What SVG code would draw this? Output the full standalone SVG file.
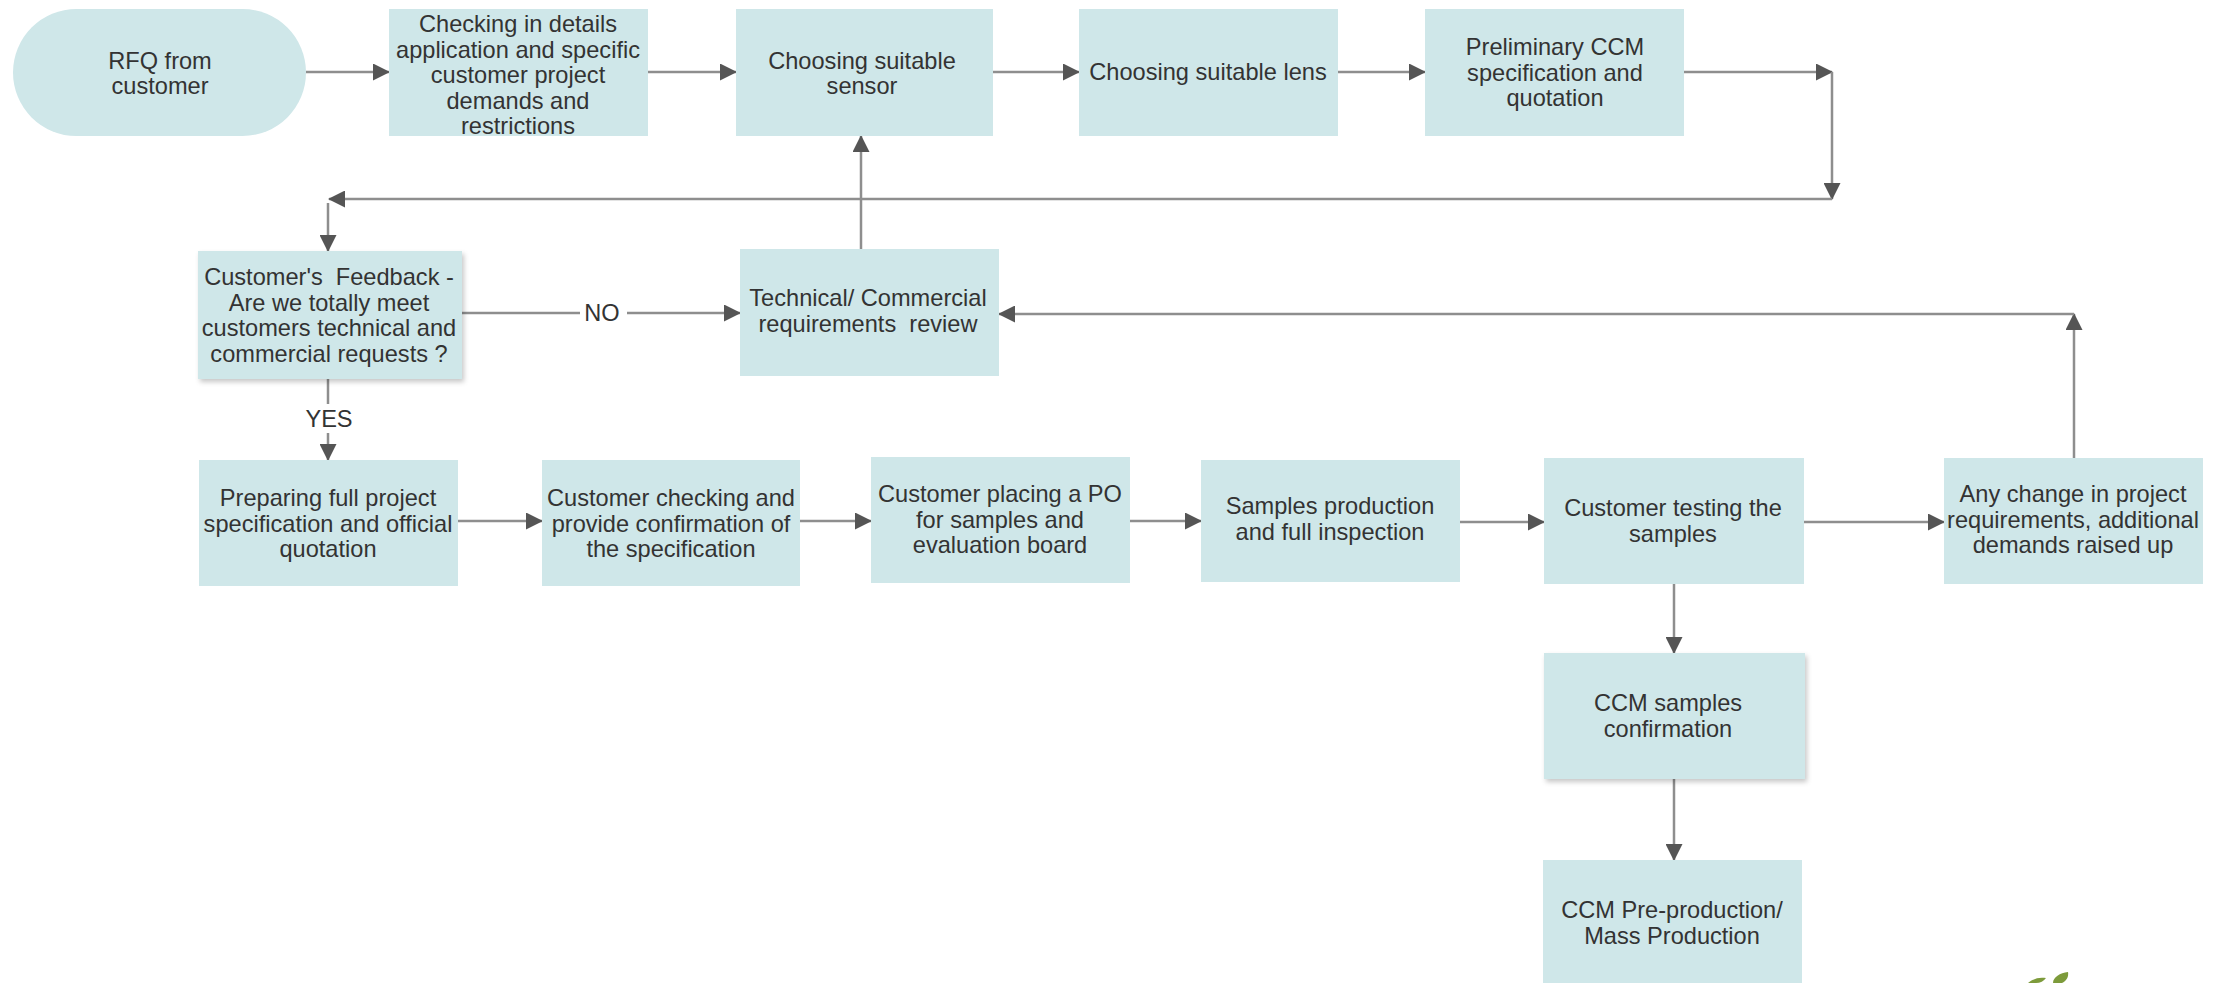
<svg xmlns="http://www.w3.org/2000/svg" width="2218" height="983" viewBox="0 0 2218 983">
<defs>
<style>
.box{fill:#cfe7e9;}
.t{font-family:"Liberation Sans",Arial,sans-serif;font-size:23.6px;fill:#333;text-anchor:middle;white-space:pre;}
.ln{fill:none;stroke:#8e8e8e;stroke-width:2.5;}
.lbl{font-family:"Liberation Sans",Arial,sans-serif;font-size:23.6px;fill:#333;text-anchor:middle;}
</style>
<marker id="ah" markerUnits="userSpaceOnUse" markerWidth="17" markerHeight="17" refX="16" refY="8.5" orient="auto">
<path d="M0,0 L17,8.5 L0,17 z" fill="#555"/>
</marker>
<filter id="sh" x="-10%" y="-10%" width="125%" height="125%">
<feDropShadow dx="2" dy="3" stdDeviation="2.5" flood-color="#000" flood-opacity="0.22"/>
</filter>
</defs>
<rect width="2218" height="983" fill="#fff"/>

<g id="connectors">
<path class="ln" d="M306,72 H389" marker-end="url(#ah)"/>
<path class="ln" d="M648,72 H736" marker-end="url(#ah)"/>
<path class="ln" d="M993,72 H1079" marker-end="url(#ah)"/>
<path class="ln" d="M1338,72 H1425" marker-end="url(#ah)"/>
<path class="ln" d="M1684,72 H1832" marker-end="url(#ah)"/>
<path class="ln" d="M1832,72 V199" marker-end="url(#ah)"/>
<path class="ln" d="M1832,199 H329" marker-end="url(#ah)"/>
<path class="ln" d="M328,203 V251" marker-end="url(#ah)"/>
<path class="ln" d="M462,313 H580"/>
<path class="ln" d="M627,313 H740" marker-end="url(#ah)"/>
<text class="lbl" x="602" y="321">NO</text>
<path class="ln" d="M861,249 V136" marker-end="url(#ah)"/>
<path class="ln" d="M2074,458 V314" marker-end="url(#ah)"/>
<path class="ln" d="M2074,314 H999" marker-end="url(#ah)"/>
<path class="ln" d="M328,379 V404"/>
<path class="ln" d="M328,433 V460" marker-end="url(#ah)"/>
<text class="lbl" x="329" y="427">YES</text>
<path class="ln" d="M458,521 H542" marker-end="url(#ah)"/>
<path class="ln" d="M800,521 H871" marker-end="url(#ah)"/>
<path class="ln" d="M1130,521 H1201" marker-end="url(#ah)"/>
<path class="ln" d="M1460,522 H1544" marker-end="url(#ah)"/>
<path class="ln" d="M1804,522 H1944" marker-end="url(#ah)"/>
<path class="ln" d="M1674,584 V653" marker-end="url(#ah)"/>
<path class="ln" d="M1674,779 V860" marker-end="url(#ah)"/>
</g>

<g id="n-rfq">
<rect class="box" x="13" y="9" width="293" height="127" rx="63.5" ry="63.5"/>
<text class="t" x="160" y="69">RFQ from</text>
<text class="t" x="160" y="94">customer</text>
</g>

<g id="n-checking">
<rect class="box" x="389" y="9" width="259" height="127"/>
<text class="t" x="518" y="32">Checking in details</text>
<text class="t" x="518" y="57.5">application and specific</text>
<text class="t" x="518" y="83">customer project</text>
<text class="t" x="518" y="108.5">demands and</text>
<text class="t" x="518" y="134">restrictions</text>
</g>

<g id="n-sensor">
<rect class="box" x="736" y="9" width="257" height="127"/>
<text class="t" x="862" y="69">Choosing suitable</text>
<text class="t" x="862" y="94">sensor</text>
</g>

<g id="n-lens">
<rect class="box" x="1079" y="9" width="259" height="127"/>
<text class="t" x="1208" y="80">Choosing suitable lens</text>
</g>

<g id="n-prelim">
<rect class="box" x="1425" y="9" width="259" height="127"/>
<text class="t" x="1555" y="55">Preliminary CCM</text>
<text class="t" x="1555" y="80.5">specification and</text>
<text class="t" x="1555" y="106">quotation</text>
</g>

<g id="n-feedback">
<rect class="box" x="198" y="251" width="264" height="128" filter="url(#sh)"/>
<text class="t" x="329" y="285">Customer's  Feedback -</text>
<text class="t" x="329" y="310.5">Are we totally meet</text>
<text class="t" x="329" y="336">customers technical and</text>
<text class="t" x="329" y="361.5">commercial requests ?</text>
</g>

<g id="n-review">
<rect class="box" x="740" y="249" width="259" height="127"/>
<text class="t" x="868" y="306">Technical/ Commercial</text>
<text class="t" x="868" y="332">requirements  review</text>
</g>

<g id="n-preparing">
<rect class="box" x="199" y="460" width="259" height="126"/>
<text class="t" x="328" y="506">Preparing full project</text>
<text class="t" x="328" y="531.5">specification and official</text>
<text class="t" x="328" y="557">quotation</text>
</g>

<g id="n-confirm">
<rect class="box" x="542" y="460" width="258" height="126"/>
<text class="t" x="671" y="506">Customer checking and</text>
<text class="t" x="671" y="531.5">provide confirmation of</text>
<text class="t" x="671" y="557">the specification</text>
</g>

<g id="n-po">
<rect class="box" x="871" y="457" width="259" height="126"/>
<text class="t" x="1000" y="502">Customer placing a PO</text>
<text class="t" x="1000" y="527.5">for samples and</text>
<text class="t" x="1000" y="553">evaluation board</text>
</g>

<g id="n-samples">
<rect class="box" x="1201" y="460" width="259" height="122"/>
<text class="t" x="1330" y="514">Samples production</text>
<text class="t" x="1330" y="540">and full inspection</text>
</g>

<g id="n-testing">
<rect class="box" x="1544" y="458" width="260" height="126"/>
<text class="t" x="1673" y="516">Customer testing the</text>
<text class="t" x="1673" y="542">samples</text>
</g>

<g id="n-change">
<rect class="box" x="1944" y="458" width="259" height="126"/>
<text class="t" x="2073" y="502">Any change in project</text>
<text class="t" x="2073" y="527.5">requirements, additional</text>
<text class="t" x="2073" y="553">demands raised up</text>
</g>

<g id="n-ccmconf">
<rect class="box" x="1544" y="653" width="261" height="126" filter="url(#sh)"/>
<text class="t" x="1668" y="711">CCM samples</text>
<text class="t" x="1668" y="737">confirmation</text>
</g>

<g id="n-mass">
<rect class="box" x="1543" y="860" width="259" height="130"/>
<text class="t" x="1672" y="918">CCM Pre-production/</text>
<text class="t" x="1672" y="944">Mass Production</text>
</g>

<g id="leaf">
<path d="M2028,983 C2034,978 2040,977 2046,978 C2044,981 2040,983 2036,983 z" fill="#7d9b3b"/>
<path d="M2053,983 C2053,977 2060,973 2068,972 C2069,977 2066,981 2062,983 z" fill="#7d9b3b"/>
</g>
</svg>
